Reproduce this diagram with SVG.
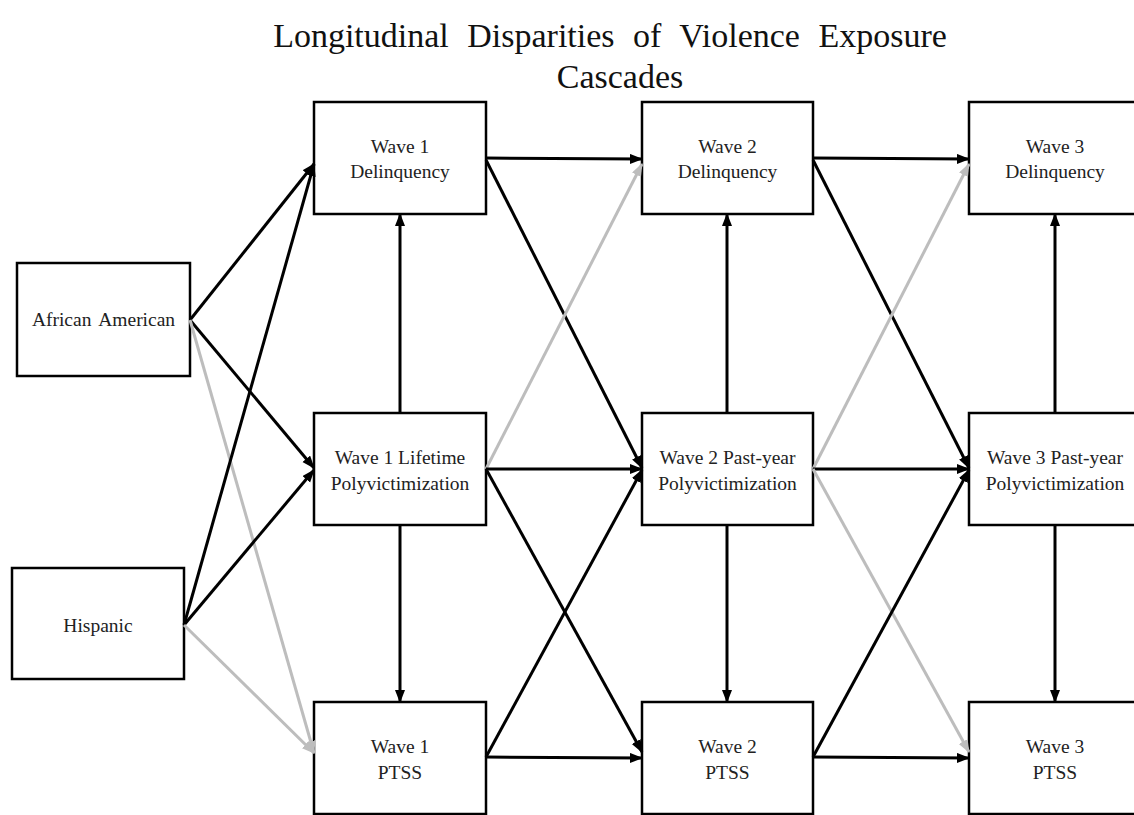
<svg xmlns="http://www.w3.org/2000/svg" width="1134" height="815" viewBox="0 0 1134 815">
<style>
.box{fill:#fff;stroke:#000;stroke-width:2.5}
.lbl{font-family:"Liberation Serif","Times New Roman",serif;font-size:19.5px;fill:#222;text-anchor:middle}
.title{font-family:"Liberation Serif","Times New Roman",serif;font-size:34px;fill:#111;text-anchor:middle}
.blk{stroke:#000;stroke-width:3;fill:none;marker-end:url(#ab)}
.gry{stroke:#bdbdbd;stroke-width:3;fill:none;marker-end:url(#ag)}
</style>
<defs>
<marker id="ab" markerUnits="userSpaceOnUse" markerWidth="14" markerHeight="11" refX="12" refY="5" orient="auto"><path d="M0,0 L13,5 L0,10 z" fill="#000"/></marker>
<marker id="ag" markerUnits="userSpaceOnUse" markerWidth="14" markerHeight="11" refX="12" refY="5" orient="auto"><path d="M0,0 L13,5 L0,10 z" fill="#bdbdbd"/></marker>
</defs>
<rect width="1134" height="815" fill="#fff"/>
<g id="title">
<text class="title" x="610" y="47" word-spacing="10">Longitudinal Disparities of Violence Exposure</text>
<text class="title" x="620" y="88">Cascades</text>
</g>
<g id="nodes">
<g id="aa"><rect class="box" x="17" y="263" width="173" height="113"/><text class="lbl" x="103.5" y="326" word-spacing="3">African American</text></g>
<g id="hisp"><rect class="box" x="12" y="568" width="172" height="111"/><text class="lbl" x="98" y="632">Hispanic</text></g>
<g id="w1d"><rect class="box" x="314" y="102" width="172" height="112"/><text class="lbl" x="400" y="153">Wave 1</text><text class="lbl" x="400" y="178">Delinquency</text></g>
<g id="w1l"><rect class="box" x="314" y="413" width="172" height="112"/><text class="lbl" x="400" y="464">Wave 1 Lifetime</text><text class="lbl" x="400" y="490">Polyvictimization</text></g>
<g id="w1p"><rect class="box" x="314" y="702" width="172" height="112"/><text class="lbl" x="400" y="753">Wave 1</text><text class="lbl" x="400" y="779">PTSS</text></g>
<g id="w2d"><rect class="box" x="642" y="102" width="171" height="112"/><text class="lbl" x="727.5" y="153">Wave 2</text><text class="lbl" x="727.5" y="178">Delinquency</text></g>
<g id="w2l"><rect class="box" x="642" y="413" width="171" height="112"/><text class="lbl" x="727.5" y="464">Wave 2 Past-year</text><text class="lbl" x="727.5" y="490">Polyvictimization</text></g>
<g id="w2p"><rect class="box" x="642" y="702" width="171" height="112"/><text class="lbl" x="727.5" y="753">Wave 2</text><text class="lbl" x="727.5" y="779">PTSS</text></g>
<g id="w3d"><rect class="box" x="969" y="102" width="172" height="112"/><text class="lbl" x="1055" y="153">Wave 3</text><text class="lbl" x="1055" y="178">Delinquency</text></g>
<g id="w3l"><rect class="box" x="969" y="413" width="172" height="112"/><text class="lbl" x="1055" y="464">Wave 3 Past-year</text><text class="lbl" x="1055" y="490">Polyvictimization</text></g>
<g id="w3p"><rect class="box" x="969" y="702" width="172" height="112"/><text class="lbl" x="1055" y="753">Wave 3</text><text class="lbl" x="1055" y="779">PTSS</text></g>
</g>
<g id="connectors">
<path class="blk" d="M190,320 L314,164"/>
<path class="blk" d="M190,320 L314,468"/>
<path class="gry" d="M190,320 L314,753"/>
<path class="blk" d="M184,625 L314,164"/>
<path class="blk" d="M184,625 L314,470"/>
<path class="gry" d="M184,625 L314,753"/>
<path class="blk" d="M486,158 L642,159"/>
<path class="blk" d="M486,160 L642,468"/>
<path class="gry" d="M486,469 L642,164"/>
<path class="blk" d="M486,469 L642,469"/>
<path class="blk" d="M486,469 L642,752"/>
<path class="blk" d="M486,757 L642,470"/>
<path class="blk" d="M486,757 L642,758"/>
<path class="blk" d="M400,413 L400,214"/>
<path class="blk" d="M400,525 L400,702"/>
<path class="blk" d="M813,158 L969,159"/>
<path class="blk" d="M813,160 L969,468"/>
<path class="gry" d="M813,469 L969,164"/>
<path class="blk" d="M813,469 L969,469"/>
<path class="gry" d="M813,469 L969,752"/>
<path class="blk" d="M813,757 L969,470"/>
<path class="blk" d="M813,757 L969,758"/>
<path class="blk" d="M727,413 L727,214"/>
<path class="blk" d="M727,525 L727,702"/>
<path class="blk" d="M1055,413 L1055,214"/>
<path class="blk" d="M1055,525 L1055,702"/>
</g>
</svg>
